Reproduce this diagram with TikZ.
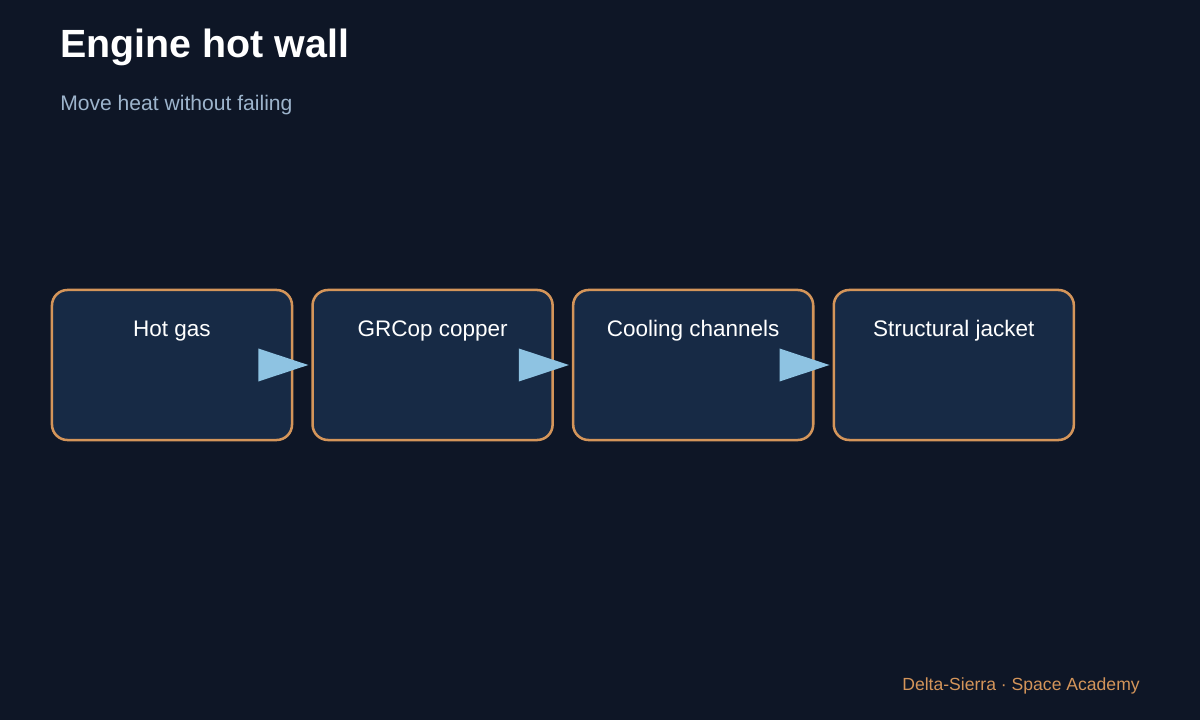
\documentclass[tikz,border=0pt]{standalone}
\usepackage{fontspec}
\setmainfont{Liberation Sans}
\usetikzlibrary{positioning,calc}
\definecolor{bgcol}{HTML}{0E1626}
\definecolor{boxfill}{HTML}{172A45}
\definecolor{boxline}{HTML}{D4955A}
\definecolor{subcol}{HTML}{9DB4CC}
\definecolor{arrowcol}{HTML}{8EC3E2}
\tikzset{
  stage/.style={draw=boxline,line width=1.8pt,fill=boxfill,rounded corners=11pt,
    minimum width=6cm,minimum height=3.75cm,inner sep=0pt},
  stagelabel/.style={text=white,font=\fontsize{16}{18}\selectfont},
  arrowhead/.style={fill=arrowcol}
}
\begin{document}
\begin{tikzpicture}[x=0.025cm,y=-0.025cm]
\fill[bgcol] (0,0) rectangle (1200,720);
\useasboundingbox (0,0) rectangle (1200,720);
\node[anchor=base west,text=white,font=\bfseries\fontsize{28}{32}\selectfont,inner sep=0pt] (title) at (60,58) {Engine hot wall};
\node[anchor=base west,text=subcol,font=\fontsize{15}{18}\selectfont,inner sep=0pt] (subtitle) at (60,111) {Move heat without failing};
% stages
\node[stage] (hot) at (172,365) {};
\node[stage,right=0.45cm of hot] (grcop) {};
\node[stage,right=0.45cm of grcop] (cool) {};
\node[stage,right=0.45cm of cool] (jacket) {};
\foreach \n/\t in {hot/Hot gas,grcop/GRCop copper,cool/Cooling channels,jacket/Structural jacket}
  \node[stagelabel,anchor=base] at ($(\n.north)+(0,48)$) {\t};
% arrows
\foreach \a/\b in {hot/grcop,grcop/cool,cool/jacket}
  \fill[arrowhead] ($(\a.east)+(-35,-16.5)$) -- ($(\b.west)+(-3,0)$) -- ($(\a.east)+(-35,16.5)$) -- cycle;
\node[anchor=base east,text=boxline,font=\fontsize{12.5}{15}\selectfont,inner sep=0pt] (footer) at (1140,690) {Delta-Sierra · Space Academy};
\end{tikzpicture}
\end{document}
